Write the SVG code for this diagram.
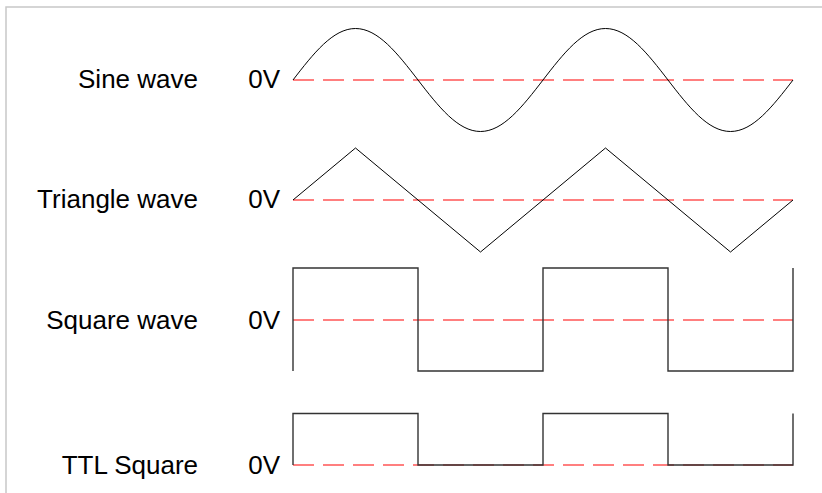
<svg xmlns="http://www.w3.org/2000/svg" width="822" height="493" viewBox="0 0 822 493">
<style>
.lbl{font-family:"Liberation Sans",Arial,sans-serif;font-size:26px;fill:#000;text-anchor:end}
.zero{fill:none;stroke:#ff0000;stroke-width:1.2;stroke-dasharray:21 9}
.wave{fill:none;stroke:#000;stroke-width:1}
.sq{fill:none;stroke:#333;stroke-width:1.4}
</style>
<rect width="822" height="493" fill="#fff"/>
<path d="M6,493 V7 H822" fill="none" stroke="#c8c8c8" stroke-width="1.5"/>
<g id="sine">
<text class="lbl" x="198" y="88">Sine wave</text>
<text class="lbl" x="280" y="88">0V</text>
<line class="zero" x1="293" y1="80" x2="793" y2="80"/>
<path class="wave" d="M293,80 C313.38,53.62 332.88,28.5 355.5,28.5 C378.12,28.5 397.62,53.62 418,80 C438.38,106.38 457.88,131.5 480.5,131.5 C503.12,131.5 522.62,106.38 543,80 C563.38,53.62 582.88,28.5 605.5,28.5 C628.12,28.5 647.62,53.62 668,80 C688.38,106.38 707.88,131.5 730.5,131.5 C753.12,131.5 772.62,106.38 793,80"/>
</g>
<g id="triangle">
<text class="lbl" x="198" y="208">Triangle wave</text>
<text class="lbl" x="280" y="208">0V</text>
<line class="zero" x1="293" y1="200" x2="793" y2="200"/>
<polyline class="wave" points="293,200 355.5,148 480.5,252 605.5,148 730.5,252 793,200"/>
</g>
<g id="square">
<text class="lbl" x="198" y="329">Square wave</text>
<text class="lbl" x="280" y="329">0V</text>
<line class="zero" x1="293" y1="320" x2="793" y2="320"/>
<path class="sq" d="M293,371 V268 H418 V371 H543 V268 H668 V371 H793 V268"/>
</g>
<g id="ttl">
<text class="lbl" x="198" y="474">TTL Square</text>
<text class="lbl" x="280" y="474">0V</text>
<line class="zero" x1="293" y1="465" x2="793" y2="465"/>
<path class="sq" d="M293,465 V413.5 H418 V465 H543 V413.5 H668 V465 H793 V413.5"/>
</g>
<g id="connectors"></g>
</svg>
